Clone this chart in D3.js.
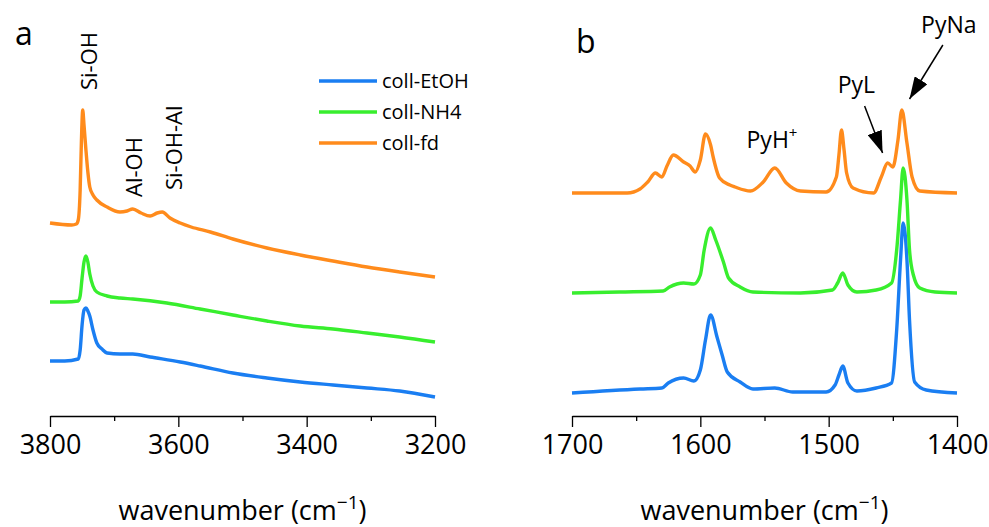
<!DOCTYPE html>
<html>
<head>
<meta charset="utf-8">
<script src="https://cdn.jsdelivr.net/npm/d3@7"></script>
<style>
  body { margin: 0; background: #fff; }
  svg { font-family: "Open Sans", sans-serif; }
  .axis path, .axis line { stroke: #000; stroke-width: 1.3; }
  .axis text { font-family: "Open Sans", sans-serif; font-size: 27px; fill: #000; }
</style>
</head>
<body>
<svg id="chart"></svg>
<script>
// series names + colours
const seriesNames = ['coll-EtOH', 'coll-NH4', 'coll-fd'];
const seriesColors = ['#1a7ef2', '#38ee2e', '#ff8b1c'];

// panel a: OH stretching region, [wavenumber, absorbance (offset, a.u.)]
const ohEtOH = [[3800,0.55],[3777,0.55],[3756,0.57],[3753,0.66],[3750,0.91],[3747,1.06],[3744,1.08],
  [3741,1.05],[3738,1.00],[3733,0.86],[3727,0.73],[3719,0.67],[3711,0.63],[3691,0.62],[3671,0.62],
  [3644,0.59],[3597,0.54],[3566,0.50],[3515,0.43],[3462,0.38],[3410,0.34],[3359,0.31],[3306,0.28],
  [3255,0.25],[3200,0.19]];
const ohNH4 = [[3800,1.14],[3777,1.14],[3756,1.15],[3753,1.20],[3750,1.38],[3747,1.54],[3744,1.60],
  [3741,1.54],[3738,1.42],[3733,1.30],[3727,1.24],[3711,1.20],[3691,1.18],[3671,1.17],[3618,1.13],
  [3566,1.07],[3515,1.01],[3462,0.95],[3410,0.90],[3359,0.87],[3306,0.83],[3255,0.79],[3200,0.74]];
const ohFd = [[3800,1.93],[3766,1.91],[3759,1.92],[3756,1.96],[3753,2.26],[3751,2.76],[3749,3.06],
  [3747,2.91],[3744,2.66],[3741,2.44],[3738,2.29],[3733,2.21],[3727,2.16],[3711,2.09],[3691,2.04],
  [3680,2.05],[3671,2.07],[3658,2.03],[3644,2.00],[3633,2.03],[3625,2.04],[3613,1.98],[3597,1.93],
  [3580,1.89],[3550,1.84],[3515,1.77],[3462,1.68],[3410,1.61],[3359,1.55],[3306,1.49],[3255,1.44],
  [3200,1.39]];

// panel b: adsorbed pyridine region
const pyEtOH = [[1700,0.23],[1647,0.27],[1630,0.28],[1625,0.33],[1613,0.38],[1605,0.35],[1600,0.46],
  [1596,0.76],[1592,1.01],[1587,0.79],[1583,0.61],[1579,0.44],[1569,0.34],[1559,0.27],[1542,0.28],
  [1528,0.24],[1502,0.24],[1495,0.31],[1492,0.41],[1489,0.50],[1485,0.33],[1478,0.25],[1463,0.28],
  [1451,0.33],[1447,0.86],[1444,1.56],[1442,1.93],[1439,1.56],[1437,0.96],[1433,0.34],[1424,0.26],
  [1400,0.23]];
const pyNH4 = [[1700,1.23],[1663,1.24],[1629,1.25],[1624,1.29],[1613,1.33],[1605,1.32],[1600,1.41],
  [1597,1.66],[1592,1.88],[1588,1.76],[1582,1.54],[1578,1.38],[1569,1.29],[1559,1.24],[1522,1.23],
  [1497,1.26],[1493,1.33],[1489,1.43],[1485,1.31],[1478,1.24],[1463,1.26],[1451,1.33],[1447,1.66],
  [1444,2.16],[1442,2.48],[1439,2.16],[1437,1.66],[1434,1.41],[1429,1.28],[1417,1.24],[1400,1.23]];
const pyFd = [[1700,2.23],[1657,2.23],[1647,2.27],[1641,2.34],[1635,2.43],[1630,2.39],[1626,2.50],
  [1621,2.61],[1613,2.54],[1608,2.50],[1604,2.44],[1600,2.56],[1596,2.82],[1592,2.71],[1590,2.59],
  [1585,2.38],[1577,2.31],[1573,2.29],[1561,2.25],[1551,2.34],[1542,2.48],[1533,2.33],[1522,2.25],
  [1502,2.24],[1494,2.39],[1492,2.61],[1490,2.86],[1488,2.66],[1486,2.43],[1481,2.28],[1465,2.23],
  [1459,2.39],[1454,2.53],[1450,2.49],[1446,2.76],[1443,3.06],[1439,2.73],[1435,2.39],[1429,2.25],
  [1400,2.23]];

// ticks
const ohMajor = [3800, 3600, 3400, 3200];
const ohMinor = [3700, 3500, 3300];
const pyMajor = [1700, 1600, 1500, 1400];
const pyMinor = [1650, 1550, 1450];

// band labels: [text, wavenumber, absorbance]
const ohBands = [['Si-OH', 3727, 3.26], ['Al-OH', 3657, 2.19], ['Si-OH-Al', 3594, 2.26]];
const pyLabels = [['PyL', 1493, 3.23], ['PyNa', 1428, 3.83]];
const pyArrows = [[1472, 3.10, 1458, 2.63], [1411, 3.71, 1437, 3.17]];

const width = 989, height = 527;
const svg = d3.select('#chart').attr('width', width).attr('height', height);

const axisY = 416;
const yScale = d3.scaleLinear().domain([0, 4.16]).range([axisY, 0]);

function drawPanel(cfg) {
  const x = d3.scaleLinear().domain(cfg.domain).range(cfg.range);
  const g = svg.append('g');

  g.append('g').attr('class', 'axis')
    .attr('transform', `translate(0,${axisY})`)
    .call(d3.axisBottom(x).tickValues(cfg.minor).tickSize(5).tickSizeOuter(0).tickFormat(''));
  const ax = g.append('g').attr('class', 'axis')
    .attr('transform', `translate(0,${axisY})`)
    .call(d3.axisBottom(x).tickValues(cfg.major).tickSize(11).tickSizeOuter(0).tickPadding(8).tickFormat(d3.format('d')));
  ax.select('.domain').remove();

  const line = d3.line()
    .x(d => x(d[0]))
    .y(d => yScale(d[1]))
    .curve(d3.curveMonotoneX);

  cfg.series.forEach((s, i) => {
    g.append('path')
      .datum(s)
      .attr('fill', 'none')
      .attr('stroke', seriesColors[i])
      .attr('stroke-width', 3.4)
      .attr('stroke-linejoin', 'round')
      .attr('d', line);
  });

  const lab = g.append('text')
    .attr('x', (cfg.range[0] + cfg.range[1]) / 2)
    .attr('y', 520)
    .attr('text-anchor', 'middle')
    .style('font-size', '27px');
  lab.append('tspan').text('wavenumber (cm');
  lab.append('tspan').attr('dy', -11).style('font-size', '19px').text('\u22121');
  lab.append('tspan').attr('dy', 11).text(')');

  g.append('text')
    .attr('x', cfg.letterPos[0]).attr('y', cfg.letterPos[1])
    .style('font-size', '32px')
    .text(cfg.letter);

  return x;
}

const xa = drawPanel({
  domain: [3800, 3200], range: [50, 435],
  major: ohMajor, minor: ohMinor,
  series: [ohEtOH, ohNH4, ohFd],
  letter: 'a', letterPos: [15, 45]
});

const xb = drawPanel({
  domain: [1700, 1400], range: [572, 957],
  major: pyMajor, minor: pyMinor,
  series: [pyEtOH, pyNH4, pyFd],
  letter: 'b', letterPos: [576, 53]
});

// band labels, panel a (rotated)
svg.selectAll('.band')
  .data(ohBands)
  .join('text')
  .attr('class', 'band')
  .attr('transform', d => `translate(${xa(d[1])},${yScale(d[2])}) rotate(-90)`)
  .style('font-size', '22px')
  .text(d => d[0]);

// legend
const legend = svg.append('g').attr('transform', 'translate(319,81)');
seriesNames.forEach((n, i) => {
  const row = legend.append('g').attr('transform', `translate(0,${i * 31})`);
  row.append('line').attr('x1', 0).attr('x2', 58)
    .attr('stroke', seriesColors[i]).attr('stroke-width', 3.4);
  row.append('text').attr('x', 63).attr('y', 7).style('font-size', '20px').text(n);
});

// panel b labels
const pyh = svg.append('text')
  .attr('x', xb(1564)).attr('y', yScale(2.68))
  .style('font-size', '23px');
pyh.append('tspan').text('PyH');
pyh.append('tspan').attr('dy', -10).style('font-size', '15px').text('+');

svg.selectAll('.pylab')
  .data(pyLabels)
  .join('text')
  .attr('class', 'pylab')
  .attr('x', d => xb(d[1])).attr('y', d => yScale(d[2]))
  .style('font-size', '23px')
  .text(d => d[0]);

svg.append('defs').append('marker')
  .attr('id', 'arrow')
  .attr('viewBox', '0 0 10 10')
  .attr('refX', 10).attr('refY', 5)
  .attr('markerWidth', 22).attr('markerHeight', 15)
  .attr('markerUnits', 'userSpaceOnUse')
  .attr('orient', 'auto')
  .attr('preserveAspectRatio', 'none')
  .append('path').attr('d', 'M0,0L10,5L0,10Z').attr('fill', '#000');

svg.selectAll('.arrow')
  .data(pyArrows)
  .join('line')
  .attr('class', 'arrow')
  .attr('x1', d => xb(d[0])).attr('y1', d => yScale(d[1]))
  .attr('x2', d => xb(d[2])).attr('y2', d => yScale(d[3]))
  .attr('stroke', '#000').attr('stroke-width', 1.5)
  .attr('marker-end', 'url(#arrow)');
</script>
</body>
</html>
